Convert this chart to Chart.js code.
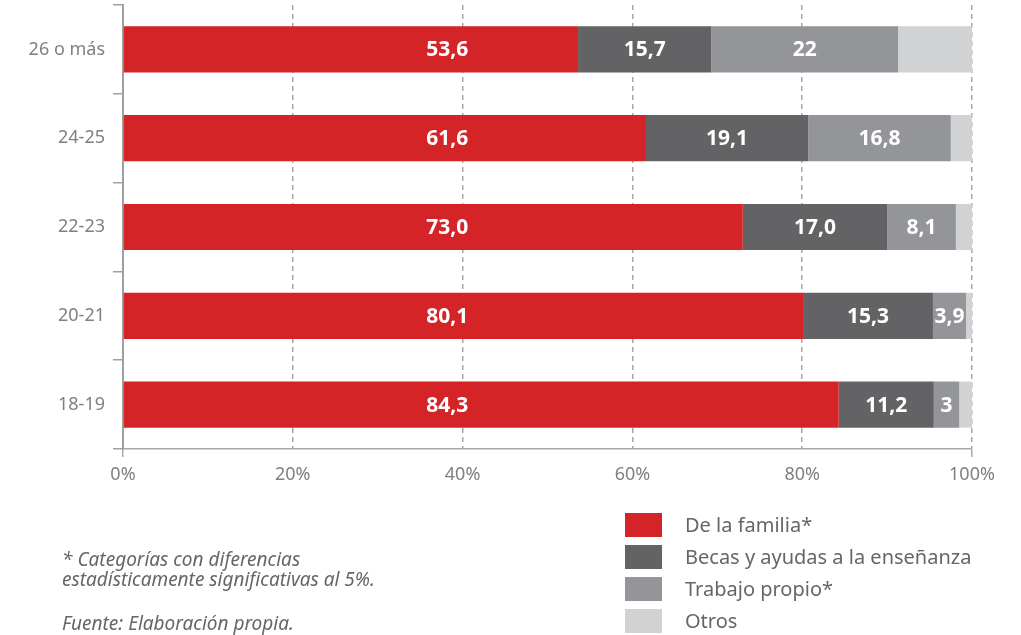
<!DOCTYPE html>
<html>
<head>
<meta charset="utf-8">
<script src="https://cdn.jsdelivr.net/npm/chart.js@4"></script>
<style>
  html, body { margin: 0; padding: 0; background: #fff; }
  #wrap { position: relative; width: 1021px; height: 635px; font-family: "Noto Sans", sans-serif; }
  #chart { position: absolute; left: 0; top: 0; }
  .legend-item { position: absolute; left: 625px; height: 24px; }
  .legend-box { position: absolute; left: 0; top: 0; width: 37px; height: 24px; }
  .legend-text { position: absolute; left: 60px; top: 0px; line-height: 24px; font-size: 20px; color: #666; white-space: nowrap; }
  .note { position: absolute; left: 62px; font-size: 19px; font-style: italic; color: #666; line-height: 20px; white-space: nowrap; }
</style>
</head>
<body>
<div id="wrap">
  <canvas id="chart" width="1021" height="635"></canvas>
  <div id="legend"></div>
  <div class="note" style="top: 549px;">* Categorías con diferencias<br>estadísticamente significativas al 5%.</div>
  <div class="note" style="top: 613px;">Fuente: Elaboración propia.</div>
</div>
<script>
// age groups, top to bottom
const categories = ["26 o más", "24-25", "22-23", "20-21", "18-19"];

// percentages as printed on the chart
const familia = ["53.6", "61.6", "73.0", "80.1", "84.3"];
const becas = ["15.7", "19.1", "17.0", "15.3", "11.2"];
const trabajo = ["22", "16.8", "8.1", "3.9", "3"];
const otros = ["8.7", "2.5", "1.9", "0.7", "1.5"];

const seriesNames = ["De la familia*", "Becas y ayudas a la enseñanza", "Trabajo propio*", "Otros"];
const seriesColors = ["#d42428", "#636365", "#939598", "#d1d2d4"];
const xTicks = [0, 20, 40, 60, 80, 100];

const series = [familia, becas, trabajo, otros];

// the "De la familia" labels all sit at the same spot on the axis
const familiaLabelAt = 38.2;

// white value labels inside the first three segments
const barLabels = {
  id: "barLabels",
  afterDatasetsDraw(chart) {
    const ctx = chart.ctx;
    const xScale = chart.scales.x;
    ctx.save();
    ctx.fillStyle = "#fff";
    ctx.font = "bold 21px 'Noto Sans'";
    ctx.textAlign = "center";
    ctx.textBaseline = "middle";
    for (let d = 0; d < 3; d++) {
      const meta = chart.getDatasetMeta(d);
      meta.data.forEach(function (bar, i) {
        const text = series[d][i].replace(".", ",");
        let x = (bar.x + bar.base) / 2;
        if (d === 0) x = xScale.getPixelForValue(familiaLabelAt);
        ctx.fillText(text, x, bar.y + 1);
      });
    }
    ctx.restore();
  },
};

const ctx = document.getElementById("chart");

const chart = new Chart(ctx, {
  type: "bar",
  data: {
    labels: categories,
    datasets: series.map(function (values, i) {
      return {
        label: seriesNames[i],
        data: values.map(Number),
        backgroundColor: seriesColors[i],
        borderWidth: 0,
        categoryPercentage: 1,
        barPercentage: 0.52,
      };
    }),
  },
  options: {
    indexAxis: "y",
    responsive: false,
    animation: false,
    events: [],
    layout: {
      padding: { left: 0, right: 49, top: 5, bottom: 146 },
    },
    plugins: {
      legend: { display: false },
      tooltip: { enabled: false },
    },
    scales: {
      x: {
        stacked: true,
        min: 0,
        max: 100,
        afterBuildTicks: function (scale) {
          scale.ticks = xTicks.map(function (v) { return { value: v }; });
        },
        afterFit: function (scale) {
          scale.height = 40;
        },
        border: { display: true, color: "#a8a8a8", width: 1.5, dash: [5, 4] },
        grid: {
          color: function (c) {
            return c.tick && c.tick.value === 0 ? "transparent" : "#a8a8a8";
          },
          tickColor: function (c) {
            return c.tick && (c.tick.value === 0 || c.tick.value === 100) ? "#a8a8a8" : "transparent";
          },
          lineWidth: 1.5,
          tickLength: 8,
        },
        ticks: {
          color: "#808080",
          font: { family: "Noto Sans", size: 18 },
          padding: 7,
          callback: function (v) { return v + "%"; },
        },
      },
      y: {
        stacked: true,
        afterFit: function (scale) {
          scale.width = 123;
          scale.paddingTop = 0;
          scale.paddingBottom = 0;
        },
        border: { display: true, color: "#a0a0a0", width: 2 },
        grid: {
          offset: true,
          drawOnChartArea: false,
          color: "#a0a0a0",
          lineWidth: 1.5,
          tickLength: 10,
        },
        ticks: {
          color: "#808080",
          font: { family: "Noto Sans", size: 18 },
          padding: 8,
        },
      },
    },
  },
  plugins: [barLabels],
});

// legend built from the same series names and colours
const legend = document.getElementById("legend");
seriesNames.forEach(function (name, i) {
  const item = document.createElement("div");
  item.className = "legend-item";
  item.style.top = (513 + i * 32) + "px";
  item.innerHTML = '<div class="legend-box" style="background:' + seriesColors[i] + '"></div>' +
    '<div class="legend-text">' + name + "</div>";
  legend.appendChild(item);
});
</script>
</body>
</html>
